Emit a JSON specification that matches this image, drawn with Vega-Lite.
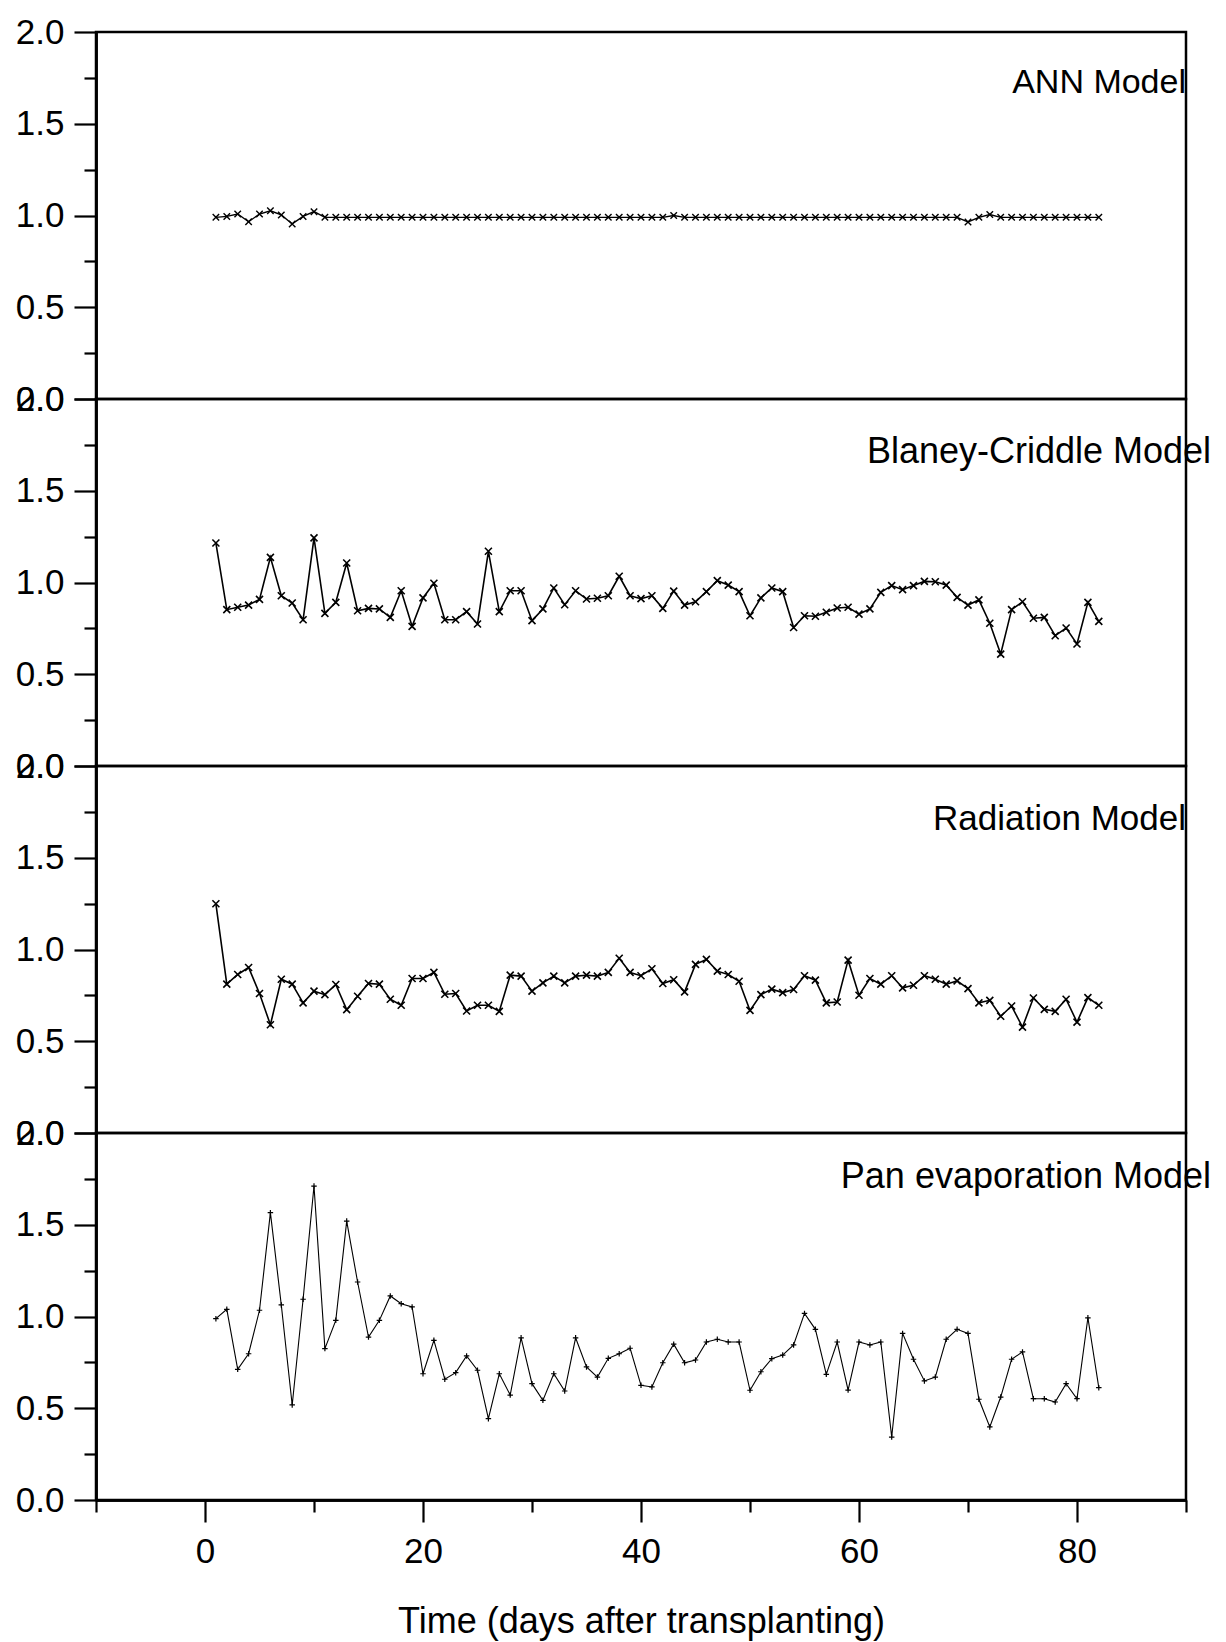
{
  "$schema": "https://vega.github.io/schema/vega-lite/v6.json",
  "padding": {"left": 14, "top": 13, "right": 5, "bottom": 5},
  "background": "white",
  "bounds": "flush",
  "spacing": 0,
  "datasets": {
    "labels": [
      {"m": "A", "name": "ANN Model"},
      {"m": "B", "name": "Blaney-Criddle Model"},
      {"m": "R", "name": "Radiation Model"},
      {"m": "P", "name": "Pan evaporation Model"}
    ],
    "series": [
      {"m":"A","d":1,"v":0.99},{"m":"A","d":2,"v":0.995},{"m":"A","d":3,"v":1.008},{"m":"A","d":4,"v":0.966},{"m":"A","d":5,"v":1.008},{"m":"A","d":6,"v":1.026},{"m":"A","d":7,"v":1.003},{"m":"A","d":8,"v":0.954},{"m":"A","d":9,"v":0.995},{"m":"A","d":10,"v":1.021},
      {"m":"A","d":11,"v":0.99},{"m":"A","d":12,"v":0.99},{"m":"A","d":13,"v":0.99},{"m":"A","d":14,"v":0.99},{"m":"A","d":15,"v":0.99},{"m":"A","d":16,"v":0.99},{"m":"A","d":17,"v":0.99},{"m":"A","d":18,"v":0.99},{"m":"A","d":19,"v":0.99},{"m":"A","d":20,"v":0.99},
      {"m":"A","d":21,"v":0.99},{"m":"A","d":22,"v":0.99},{"m":"A","d":23,"v":0.99},{"m":"A","d":24,"v":0.99},{"m":"A","d":25,"v":0.99},{"m":"A","d":26,"v":0.99},{"m":"A","d":27,"v":0.99},{"m":"A","d":28,"v":0.99},{"m":"A","d":29,"v":0.99},{"m":"A","d":30,"v":0.99},
      {"m":"A","d":31,"v":0.99},{"m":"A","d":32,"v":0.99},{"m":"A","d":33,"v":0.99},{"m":"A","d":34,"v":0.99},{"m":"A","d":35,"v":0.99},{"m":"A","d":36,"v":0.99},{"m":"A","d":37,"v":0.99},{"m":"A","d":38,"v":0.99},{"m":"A","d":39,"v":0.99},{"m":"A","d":40,"v":0.99},
      {"m":"A","d":41,"v":0.99},{"m":"A","d":42,"v":0.99},{"m":"A","d":43,"v":1.0},{"m":"A","d":44,"v":0.99},{"m":"A","d":45,"v":0.99},{"m":"A","d":46,"v":0.99},{"m":"A","d":47,"v":0.99},{"m":"A","d":48,"v":0.99},{"m":"A","d":49,"v":0.99},{"m":"A","d":50,"v":0.99},
      {"m":"A","d":51,"v":0.99},{"m":"A","d":52,"v":0.99},{"m":"A","d":53,"v":0.99},{"m":"A","d":54,"v":0.99},{"m":"A","d":55,"v":0.99},{"m":"A","d":56,"v":0.99},{"m":"A","d":57,"v":0.99},{"m":"A","d":58,"v":0.99},{"m":"A","d":59,"v":0.99},{"m":"A","d":60,"v":0.99},
      {"m":"A","d":61,"v":0.99},{"m":"A","d":62,"v":0.99},{"m":"A","d":63,"v":0.99},{"m":"A","d":64,"v":0.99},{"m":"A","d":65,"v":0.99},{"m":"A","d":66,"v":0.99},{"m":"A","d":67,"v":0.99},{"m":"A","d":68,"v":0.99},{"m":"A","d":69,"v":0.99},{"m":"A","d":70,"v":0.965},
      {"m":"A","d":71,"v":0.99},{"m":"A","d":72,"v":1.005},{"m":"A","d":73,"v":0.99},{"m":"A","d":74,"v":0.99},{"m":"A","d":75,"v":0.99},{"m":"A","d":76,"v":0.99},{"m":"A","d":77,"v":0.99},{"m":"A","d":78,"v":0.99},{"m":"A","d":79,"v":0.99},{"m":"A","d":80,"v":0.99},
      {"m":"A","d":81,"v":0.99},{"m":"A","d":82,"v":0.99},
      {"m":"B","d":1,"v":1.215},{"m":"B","d":2,"v":0.852},{"m":"B","d":3,"v":0.865},{"m":"B","d":4,"v":0.877},{"m":"B","d":5,"v":0.908},{"m":"B","d":6,"v":1.137},{"m":"B","d":7,"v":0.928},{"m":"B","d":8,"v":0.888},{"m":"B","d":9,"v":0.797},{"m":"B","d":10,"v":1.243},
      {"m":"B","d":11,"v":0.832},{"m":"B","d":12,"v":0.892},{"m":"B","d":13,"v":1.106},{"m":"B","d":14,"v":0.846},{"m":"B","d":15,"v":0.859},{"m":"B","d":16,"v":0.856},{"m":"B","d":17,"v":0.81},{"m":"B","d":18,"v":0.955},{"m":"B","d":19,"v":0.761},{"m":"B","d":20,"v":0.916},
      {"m":"B","d":21,"v":0.996},{"m":"B","d":22,"v":0.797},{"m":"B","d":23,"v":0.797},{"m":"B","d":24,"v":0.841},{"m":"B","d":25,"v":0.774},{"m":"B","d":26,"v":1.17},{"m":"B","d":27,"v":0.841},{"m":"B","d":28,"v":0.955},{"m":"B","d":29,"v":0.955},{"m":"B","d":30,"v":0.792},
      {"m":"B","d":31,"v":0.856},{"m":"B","d":32,"v":0.97},{"m":"B","d":33,"v":0.879},{"m":"B","d":34,"v":0.955},{"m":"B","d":35,"v":0.91},{"m":"B","d":36,"v":0.914},{"m":"B","d":37,"v":0.928},{"m":"B","d":38,"v":1.034},{"m":"B","d":39,"v":0.928},{"m":"B","d":40,"v":0.912},
      {"m":"B","d":41,"v":0.928},{"m":"B","d":42,"v":0.859},{"m":"B","d":43,"v":0.953},{"m":"B","d":44,"v":0.877},{"m":"B","d":45,"v":0.895},{"m":"B","d":46,"v":0.95},{"m":"B","d":47,"v":1.01},{"m":"B","d":48,"v":0.986},{"m":"B","d":49,"v":0.95},{"m":"B","d":50,"v":0.819},
      {"m":"B","d":51,"v":0.916},{"m":"B","d":52,"v":0.97},{"m":"B","d":53,"v":0.95},{"m":"B","d":54,"v":0.755},{"m":"B","d":55,"v":0.819},{"m":"B","d":56,"v":0.816},{"m":"B","d":57,"v":0.838},{"m":"B","d":58,"v":0.861},{"m":"B","d":59,"v":0.865},{"m":"B","d":60,"v":0.828},
      {"m":"B","d":61,"v":0.856},{"m":"B","d":62,"v":0.946},{"m":"B","d":63,"v":0.983},{"m":"B","d":64,"v":0.961},{"m":"B","d":65,"v":0.983},{"m":"B","d":66,"v":1.006},{"m":"B","d":67,"v":1.004},{"m":"B","d":68,"v":0.986},{"m":"B","d":69,"v":0.919},{"m":"B","d":70,"v":0.877},
      {"m":"B","d":71,"v":0.905},{"m":"B","d":72,"v":0.778},{"m":"B","d":73,"v":0.61},{"m":"B","d":74,"v":0.852},{"m":"B","d":75,"v":0.895},{"m":"B","d":76,"v":0.805},{"m":"B","d":77,"v":0.81},{"m":"B","d":78,"v":0.71},{"m":"B","d":79,"v":0.752},{"m":"B","d":80,"v":0.665},
      {"m":"B","d":81,"v":0.892},{"m":"B","d":82,"v":0.788},
      {"m":"R","d":1,"v":1.249},{"m":"R","d":2,"v":0.811},{"m":"R","d":3,"v":0.864},{"m":"R","d":4,"v":0.902},{"m":"R","d":5,"v":0.76},{"m":"R","d":6,"v":0.59},{"m":"R","d":7,"v":0.838},{"m":"R","d":8,"v":0.811},{"m":"R","d":9,"v":0.709},{"m":"R","d":10,"v":0.773},
      {"m":"R","d":11,"v":0.754},{"m":"R","d":12,"v":0.809},{"m":"R","d":13,"v":0.672},{"m":"R","d":14,"v":0.745},{"m":"R","d":15,"v":0.815},{"m":"R","d":16,"v":0.811},{"m":"R","d":17,"v":0.729},{"m":"R","d":18,"v":0.696},{"m":"R","d":19,"v":0.842},{"m":"R","d":20,"v":0.842},
      {"m":"R","d":21,"v":0.875},{"m":"R","d":22,"v":0.756},{"m":"R","d":23,"v":0.76},{"m":"R","d":24,"v":0.665},{"m":"R","d":25,"v":0.696},{"m":"R","d":26,"v":0.696},{"m":"R","d":27,"v":0.663},{"m":"R","d":28,"v":0.86},{"m":"R","d":29,"v":0.855},{"m":"R","d":30,"v":0.773},
      {"m":"R","d":31,"v":0.818},{"m":"R","d":32,"v":0.855},{"m":"R","d":33,"v":0.818},{"m":"R","d":34,"v":0.855},{"m":"R","d":35,"v":0.86},{"m":"R","d":36,"v":0.855},{"m":"R","d":37,"v":0.875},{"m":"R","d":38,"v":0.952},{"m":"R","d":39,"v":0.875},{"m":"R","d":40,"v":0.857},
      {"m":"R","d":41,"v":0.895},{"m":"R","d":42,"v":0.815},{"m":"R","d":43,"v":0.835},{"m":"R","d":44,"v":0.769},{"m":"R","d":45,"v":0.919},{"m":"R","d":46,"v":0.946},{"m":"R","d":47,"v":0.882},{"m":"R","d":48,"v":0.864},{"m":"R","d":49,"v":0.827},{"m":"R","d":50,"v":0.668},
      {"m":"R","d":51,"v":0.754},{"m":"R","d":52,"v":0.784},{"m":"R","d":53,"v":0.765},{"m":"R","d":54,"v":0.782},{"m":"R","d":55,"v":0.857},{"m":"R","d":56,"v":0.833},{"m":"R","d":57,"v":0.709},{"m":"R","d":58,"v":0.714},{"m":"R","d":59,"v":0.942},{"m":"R","d":60,"v":0.751},
      {"m":"R","d":61,"v":0.842},{"m":"R","d":62,"v":0.811},{"m":"R","d":63,"v":0.857},{"m":"R","d":64,"v":0.791},{"m":"R","d":65,"v":0.805},{"m":"R","d":66,"v":0.857},{"m":"R","d":67,"v":0.838},{"m":"R","d":68,"v":0.811},{"m":"R","d":69,"v":0.829},{"m":"R","d":70,"v":0.787},
      {"m":"R","d":71,"v":0.709},{"m":"R","d":72,"v":0.723},{"m":"R","d":73,"v":0.636},{"m":"R","d":74,"v":0.692},{"m":"R","d":75,"v":0.577},{"m":"R","d":76,"v":0.736},{"m":"R","d":77,"v":0.674},{"m":"R","d":78,"v":0.663},{"m":"R","d":79,"v":0.729},{"m":"R","d":80,"v":0.604},
      {"m":"R","d":81,"v":0.738},{"m":"R","d":82,"v":0.696},
      {"m":"P","d":1,"v":0.988},{"m":"P","d":2,"v":1.039},{"m":"P","d":3,"v":0.712},{"m":"P","d":4,"v":0.797},{"m":"P","d":5,"v":1.034},{"m":"P","d":6,"v":1.566},{"m":"P","d":7,"v":1.063},{"m":"P","d":8,"v":0.518},{"m":"P","d":9,"v":1.094},{"m":"P","d":10,"v":1.711},
      {"m":"P","d":11,"v":0.825},{"m":"P","d":12,"v":0.979},{"m":"P","d":13,"v":1.52},{"m":"P","d":14,"v":1.188},{"m":"P","d":15,"v":0.888},{"m":"P","d":16,"v":0.979},{"m":"P","d":17,"v":1.112},{"m":"P","d":18,"v":1.07},{"m":"P","d":19,"v":1.052},{"m":"P","d":20,"v":0.688},
      {"m":"P","d":21,"v":0.87},{"m":"P","d":22,"v":0.658},{"m":"P","d":23,"v":0.694},{"m":"P","d":24,"v":0.785},{"m":"P","d":25,"v":0.707},{"m":"P","d":26,"v":0.443},{"m":"P","d":27,"v":0.688},{"m":"P","d":28,"v":0.572},{"m":"P","d":29,"v":0.884},{"m":"P","d":30,"v":0.634},
      {"m":"P","d":31,"v":0.543},{"m":"P","d":32,"v":0.688},{"m":"P","d":33,"v":0.594},{"m":"P","d":34,"v":0.884},{"m":"P","d":35,"v":0.725},{"m":"P","d":36,"v":0.67},{"m":"P","d":37,"v":0.772},{"m":"P","d":38,"v":0.797},{"m":"P","d":39,"v":0.827},{"m":"P","d":40,"v":0.625},
      {"m":"P","d":41,"v":0.616},{"m":"P","d":42,"v":0.748},{"m":"P","d":43,"v":0.849},{"m":"P","d":44,"v":0.748},{"m":"P","d":45,"v":0.763},{"m":"P","d":46,"v":0.861},{"m":"P","d":47,"v":0.876},{"m":"P","d":48,"v":0.861},{"m":"P","d":49,"v":0.861},{"m":"P","d":50,"v":0.598},
      {"m":"P","d":51,"v":0.699},{"m":"P","d":52,"v":0.77},{"m":"P","d":53,"v":0.79},{"m":"P","d":54,"v":0.845},{"m":"P","d":55,"v":1.017},{"m":"P","d":56,"v":0.93},{"m":"P","d":57,"v":0.685},{"m":"P","d":58,"v":0.861},{"m":"P","d":59,"v":0.599},{"m":"P","d":60,"v":0.861},
      {"m":"P","d":61,"v":0.845},{"m":"P","d":62,"v":0.861},{"m":"P","d":63,"v":0.343},{"m":"P","d":64,"v":0.908},{"m":"P","d":65,"v":0.767},{"m":"P","d":66,"v":0.649},{"m":"P","d":67,"v":0.67},{"m":"P","d":68,"v":0.876},{"m":"P","d":69,"v":0.93},{"m":"P","d":70,"v":0.908},
      {"m":"P","d":71,"v":0.549},{"m":"P","d":72,"v":0.398},{"m":"P","d":73,"v":0.561},{"m":"P","d":74,"v":0.767},{"m":"P","d":75,"v":0.807},{"m":"P","d":76,"v":0.552},{"m":"P","d":77,"v":0.552},{"m":"P","d":78,"v":0.534},{"m":"P","d":79,"v":0.634},{"m":"P","d":80,"v":0.552},
      {"m":"P","d":81,"v":0.993},{"m":"P","d":82,"v":0.612}
    ]
  },
  "data": {"name": "series"},
  "vconcat": [
    {
      "width": 1090, "height": 367,
      "resolve": {"axis": {"y": "independent"}},
      "layer": [
        {"transform": [{"filter": "datum.m==='A'"}], "mark": {"type": "line", "color": "black", "strokeWidth": 1.4},
         "encoding": {
           "x": {"field": "d", "type": "quantitative", "scale": {"domain": [-10, 90], "nice": false, "zero": false}, "axis": null},
           "y": {"field": "v", "type": "quantitative", "scale": {"domain": [0, 2], "nice": false, "zero": false},
                 "axis": {"title": null, "orient": "left", "values": [0, 0.5, 1, 1.5, 2], "format": ".1f", "tickSize": 22, "labelPadding": 10, "labelOverlap": false, "labelFlush": false}}}},
        {"transform": [{"filter": "datum.m==='A'"}], "mark": {"type": "point", "shape": "M-1,-1L1,1M-1,1L1,-1", "filled": false, "color": "black", "opacity": 1, "size": 42, "strokeWidth": 1.4},
         "encoding": {
           "x": {"field": "d", "type": "quantitative", "scale": {"domain": [-10, 90], "nice": false, "zero": false}, "axis": null},
           "y": {"field": "v", "type": "quantitative", "scale": {"domain": [0, 2], "nice": false, "zero": false},
                 "axis": {"title": null, "orient": "left", "values": [0.25, 0.75, 1.25, 1.75], "tickSize": 12, "labels": false}}}},
        {"data": {"name": "labels"}, "transform": [{"filter": "datum.m==='A'"}],
         "mark": {"type": "text", "align": "right", "baseline": "alphabetic", "fontSize": 34, "color": "black"},
         "encoding": {
           "x": {"datum": 90, "type": "quantitative", "axis": null},
           "y": {"datum": 1.67, "type": "quantitative", "axis": null},
           "text": {"field": "name"}}}
      ]
    },
    {
      "width": 1090, "height": 367,
      "resolve": {"axis": {"y": "independent"}},
      "layer": [
        {"transform": [{"filter": "datum.m==='B'"}], "mark": {"type": "line", "color": "black", "strokeWidth": 1.6},
         "encoding": {
           "x": {"field": "d", "type": "quantitative", "scale": {"domain": [-10, 90], "nice": false, "zero": false}, "axis": null},
           "y": {"field": "v", "type": "quantitative", "scale": {"domain": [0, 2], "nice": false, "zero": false},
                 "axis": {"title": null, "orient": "left", "values": [0, 0.5, 1, 1.5, 2], "format": ".1f", "tickSize": 22, "labelPadding": 10, "labelOverlap": false, "labelFlush": false}}}},
        {"transform": [{"filter": "datum.m==='B'"}], "mark": {"type": "point", "shape": "M-1,-1L1,1M-1,1L1,-1", "filled": false, "color": "black", "opacity": 1, "size": 49, "strokeWidth": 1.6},
         "encoding": {
           "x": {"field": "d", "type": "quantitative", "scale": {"domain": [-10, 90], "nice": false, "zero": false}, "axis": null},
           "y": {"field": "v", "type": "quantitative", "scale": {"domain": [0, 2], "nice": false, "zero": false},
                 "axis": {"title": null, "orient": "left", "values": [0.25, 0.75, 1.25, 1.75], "tickSize": 12, "labels": false}}}},
        {"data": {"name": "labels"}, "transform": [{"filter": "datum.m==='B'"}],
         "mark": {"type": "text", "align": "right", "baseline": "alphabetic", "fontSize": 36, "color": "black"},
         "encoding": {
           "x": {"datum": 92.3, "type": "quantitative", "axis": null},
           "y": {"datum": 1.65, "type": "quantitative", "axis": null},
           "text": {"field": "name"}}}
      ]
    },
    {
      "width": 1090, "height": 367,
      "resolve": {"axis": {"y": "independent"}},
      "layer": [
        {"transform": [{"filter": "datum.m==='R'"}], "mark": {"type": "line", "color": "black", "strokeWidth": 1.6},
         "encoding": {
           "x": {"field": "d", "type": "quantitative", "scale": {"domain": [-10, 90], "nice": false, "zero": false}, "axis": null},
           "y": {"field": "v", "type": "quantitative", "scale": {"domain": [0, 2], "nice": false, "zero": false},
                 "axis": {"title": null, "orient": "left", "values": [0, 0.5, 1, 1.5, 2], "format": ".1f", "tickSize": 22, "labelPadding": 10, "labelOverlap": false, "labelFlush": false}}}},
        {"transform": [{"filter": "datum.m==='R'"}], "mark": {"type": "point", "shape": "M-1,-1L1,1M-1,1L1,-1", "filled": false, "color": "black", "opacity": 1, "size": 49, "strokeWidth": 1.6},
         "encoding": {
           "x": {"field": "d", "type": "quantitative", "scale": {"domain": [-10, 90], "nice": false, "zero": false}, "axis": null},
           "y": {"field": "v", "type": "quantitative", "scale": {"domain": [0, 2], "nice": false, "zero": false},
                 "axis": {"title": null, "orient": "left", "values": [0.25, 0.75, 1.25, 1.75], "tickSize": 12, "labels": false}}}},
        {"data": {"name": "labels"}, "transform": [{"filter": "datum.m==='R'"}],
         "mark": {"type": "text", "align": "right", "baseline": "alphabetic", "fontSize": 35, "color": "black"},
         "encoding": {
           "x": {"datum": 90, "type": "quantitative", "axis": null},
           "y": {"datum": 1.65, "type": "quantitative", "axis": null},
           "text": {"field": "name"}}}
      ]
    },
    {
      "width": 1090, "height": 367,
      "resolve": {"axis": {"x": "independent", "y": "independent"}},
      "layer": [
        {"transform": [{"filter": "datum.m==='P'"}], "mark": {"type": "line", "color": "black", "strokeWidth": 1.1},
         "encoding": {
           "x": {"field": "d", "type": "quantitative", "scale": {"domain": [-10, 90], "nice": false, "zero": false},
                 "axis": {"title": "Time (days after transplanting)", "orient": "bottom", "values": [0, 20, 40, 60, 80], "tickSize": 22, "labelPadding": 12, "labelOverlap": false, "labelFlush": false, "titlePadding": 35}},
           "y": {"field": "v", "type": "quantitative", "scale": {"domain": [0, 2], "nice": false, "zero": false},
                 "axis": {"title": null, "orient": "left", "values": [0, 0.5, 1, 1.5, 2], "format": ".1f", "tickSize": 22, "labelPadding": 10, "labelOverlap": false, "labelFlush": false}}}},
        {"transform": [{"filter": "datum.m==='P'"}], "mark": {"type": "point", "shape": "M-1,0L1,0M0,-1L0,1", "filled": false, "color": "black", "opacity": 1, "size": 30, "strokeWidth": 1.2},
         "encoding": {
           "x": {"field": "d", "type": "quantitative", "scale": {"domain": [-10, 90], "nice": false, "zero": false},
                 "axis": {"title": null, "orient": "bottom", "values": [-10, 10, 30, 50, 70, 90], "tickSize": 12, "labels": false}},
           "y": {"field": "v", "type": "quantitative", "scale": {"domain": [0, 2], "nice": false, "zero": false},
                 "axis": {"title": null, "orient": "left", "values": [0.25, 0.75, 1.25, 1.75], "tickSize": 12, "labels": false}}}},
        {"data": {"name": "labels"}, "transform": [{"filter": "datum.m==='P'"}],
         "mark": {"type": "text", "align": "right", "baseline": "alphabetic", "fontSize": 36, "color": "black"},
         "encoding": {
           "x": {"datum": 92.3, "type": "quantitative", "axis": null},
           "y": {"datum": 1.7, "type": "quantitative", "axis": null},
           "text": {"field": "name"}}}
      ]
    }
  ],
  "config": {
    "font": "Liberation Sans",
    "view": {"stroke": "black", "strokeWidth": 2.5},
    "axis": {"domainColor": "black", "domainWidth": 2.5, "tickColor": "black", "tickWidth": 2.2,
             "labelColor": "black", "labelFont": "Liberation Sans", "labelFontSize": 35, "grid": false,
             "titleFont": "Liberation Sans", "titleFontSize": 36, "titleFontWeight": "normal", "titleColor": "black"},
    "text": {"font": "Liberation Sans"}
  }
}
